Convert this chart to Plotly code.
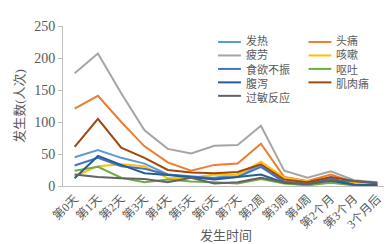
import plotly.graph_objects as go

categories = ["第0天", "第1天", "第2天", "第3天", "第4天", "第5天", "第6天", "第7天",
              "第2周", "第3周", "第4周", "第2个月", "第3个月", "3个月后"]

fever = [45, 56, 44, 35, 18, 14, 13, 18, 33, 7, 4, 10, 3, 1]
headache = [121, 141, 100, 62, 37, 24, 33, 35, 66, 14, 8, 18, 6, 3]
fatigue = [176, 207, 145, 87, 58, 51, 63, 64, 94, 24, 13, 23, 9, 6]
cough = [15, 31, 34, 31, 12, 13, 18, 17, 38, 13, 7, 9, 4, 2]
appetite = [32, 44, 31, 27, 18, 15, 12, 14, 30, 6, 3, 12, 2, 1]
vomit = [24, 30, 13, 6, 10, 7, 6, 4, 11, 4, 1, 5, 1, 0]
diarrhea = [12, 47, 33, 20, 17, 14, 10, 14, 18, 5, 3, 8, 2, 1]
myalgia = [61, 105, 60, 44, 25, 21, 20, 22, 34, 10, 6, 14, 8, 4]
allergy = [18, 14, 12, 11, 6, 13, 4, 6, 13, 6, 3, 9, 8, 5]

y_ticks = [0, 50, 100, 150, 200, 250]

series = [
    ("发热", fever, "#5B9BD5"),
    ("头痛", headache, "#ED7D31"),
    ("疲劳", fatigue, "#A5A5A5"),
    ("咳嗽", cough, "#FFC000"),
    ("食欲不振", appetite, "#4472C4"),
    ("呕吐", vomit, "#70AD47"),
    ("腹泻", diarrhea, "#255E91"),
    ("肌肉痛", myalgia, "#9E480E"),
    ("过敏反应", allergy, "#636363"),
]

FONT = "Liberation Serif, Noto Sans CJK SC, serif"
TXT = "#595959"

fig = go.Figure()
for name, vals, color in series:
    fig.add_trace(go.Scatter(x=categories, y=vals, mode="lines", name=name,
                             line=dict(color=color, width=2), showlegend=False))

# custom legend (two columns, row-major order, like the reference)
W, H = 392, 244
ml, mr, mt, mb = 53, 11, 15, 59
pw, ph = W - ml - mr, H - mt - mb
def px(x):
    return (x - ml) / pw
def py(y):
    return (H - mb - y) / ph

LF = 11
step = 1.3 * LF
top_row = 32
shapes, annots = [], []
for col in range(2):
    items = [s for k, s in enumerate(series) if k % 2 == col]
    x0 = 209 + col * 91
    for row, (name, vals, color) in enumerate(items):
        yc = top_row + row * step
        shapes.append(dict(type="line", xref="paper", yref="paper",
                           x0=px(x0), x1=px(x0 + 23), y0=py(yc), y1=py(yc),
                           line=dict(color=color, width=2)))
    center = top_row + (len(items) - 1) * step / 2
    annots.append(dict(xref="paper", yref="paper", x=px(x0 + 26), y=py(center),
                       text="<br>".join(n for n, _, _ in items), showarrow=False,
                       xanchor="left", yanchor="middle", align="left",
                       font=dict(family=FONT, size=LF, color=TXT)))

fig.update_layout(
    width=W, height=H,
    margin=dict(l=ml, r=mr, t=mt, b=mb),
    paper_bgcolor="white", plot_bgcolor="white",
    font=dict(family=FONT, size=13, color=TXT),
    shapes=shapes, annotations=annots,
    xaxis=dict(type="category", tickangle=-45, showline=True, linecolor="#BFBFBF",
               linewidth=1, ticks="", showgrid=False, zeroline=False,
               tickfont=dict(family=FONT, size=12, color=TXT),
               title=dict(text="发生时间", font=dict(family=FONT, size=13, color=TXT), standoff=0),
               range=[-0.5, len(categories) - 0.5]),
    yaxis=dict(range=[0, 250], tickvals=y_ticks, showline=True, linecolor="#BFBFBF",
               linewidth=1, ticks="outside", ticklen=4, tickcolor="#BFBFBF",
               showgrid=False, zeroline=False,
               tickfont=dict(family=FONT, size=14, color=TXT),
               title=dict(text="发生数(人次)", font=dict(family=FONT, size=13, color=TXT), standoff=6)),
)

fig.write_html("out.html")
